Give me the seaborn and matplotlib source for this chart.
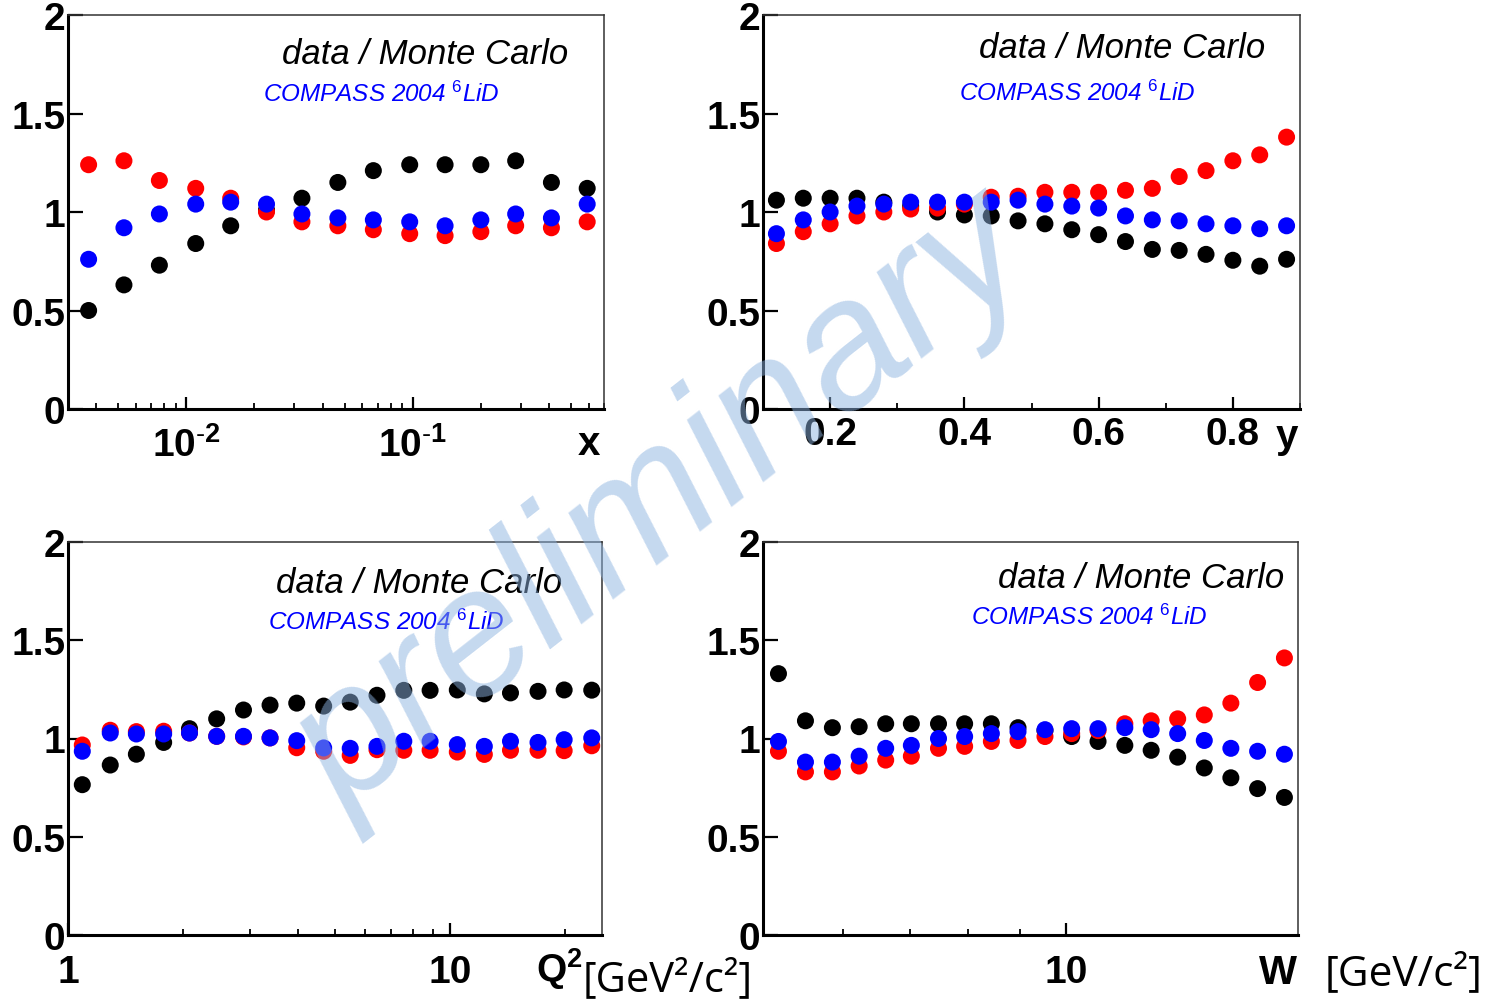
import matplotlib
matplotlib.use("Agg")
import matplotlib.pyplot as plt
import numpy as np
import pandas as pd
import seaborn as sns
from matplotlib.ticker import FixedLocator, FixedFormatter, NullFormatter, MultipleLocator, LogLocator

# ---------------- data: ratio data / Monte Carlo for three samples ----------------
series_names = ["black", "red", "blue"]
series_colors = {"black": "#000000", "red": "#ff0000", "blue": "#0000ff"}

x_bins = [0.0037, 0.0053, 0.0076, 0.011, 0.0157, 0.0226, 0.0324, 0.0467,
          0.067, 0.097, 0.139, 0.20, 0.285, 0.41, 0.59]
x_black = [0.50, 0.63, 0.73, 0.84, 0.93, 1.01, 1.07, 1.15, 1.21, 1.24, 1.24, 1.24, 1.26, 1.15, 1.12]
x_red = [1.24, 1.26, 1.16, 1.12, 1.07, 1.00, 0.95, 0.93, 0.91, 0.89, 0.88, 0.90, 0.93, 0.92, 0.95]
x_blue = [0.76, 0.92, 0.99, 1.04, 1.05, 1.04, 0.99, 0.97, 0.96, 0.95, 0.93, 0.96, 0.99, 0.97, 1.04]

y_bins = [0.12, 0.16, 0.20, 0.24, 0.28, 0.32, 0.36, 0.40, 0.44, 0.48,
          0.52, 0.56, 0.60, 0.64, 0.68, 0.72, 0.76, 0.80, 0.84, 0.88]
y_black = [1.06, 1.07, 1.07, 1.07, 1.05, 1.03, 1.00, 0.985, 0.98, 0.955,
           0.94, 0.91, 0.885, 0.85, 0.81, 0.805, 0.785, 0.755, 0.725, 0.76]
y_red = [0.84, 0.90, 0.94, 0.98, 1.00, 1.015, 1.02, 1.04, 1.075, 1.08,
         1.10, 1.10, 1.10, 1.11, 1.12, 1.18, 1.21, 1.26, 1.29, 1.38]
y_blue = [0.89, 0.96, 1.00, 1.03, 1.04, 1.05, 1.05, 1.05, 1.05, 1.06,
          1.04, 1.03, 1.02, 0.98, 0.96, 0.955, 0.94, 0.93, 0.915, 0.93]

q2_bins = [1.09, 1.29, 1.51, 1.78, 2.08, 2.45, 2.88, 3.38, 3.97, 4.67,
           5.48, 6.44, 7.57, 8.87, 10.45, 12.3, 14.4, 17.0, 19.9, 23.5]
q2_black = [0.765, 0.865, 0.92, 0.98, 1.05, 1.10, 1.145, 1.17, 1.18, 1.165,
            1.185, 1.22, 1.245, 1.245, 1.247, 1.227, 1.232, 1.24, 1.247, 1.246]
q2_red = [0.967, 1.042, 1.035, 1.037, 1.028, 1.011, 1.008, 1.003, 0.953, 0.935,
          0.914, 0.943, 0.94, 0.94, 0.931, 0.919, 0.94, 0.94, 0.938, 0.963]
q2_blue = [0.935, 1.028, 1.023, 1.023, 1.028, 1.011, 1.011, 1.003, 0.989, 0.952,
           0.95, 0.96, 0.986, 0.986, 0.969, 0.96, 0.986, 0.98, 0.994, 1.003]

w_bins = [5.18, 5.51, 5.86, 6.23, 6.62, 7.02, 7.47, 7.93, 8.43, 8.96,
          9.53, 10.13, 10.76, 11.44, 12.15, 12.91, 13.72, 14.58, 15.5, 16.48]
w_black = [1.33, 1.09, 1.055, 1.06, 1.075, 1.075, 1.075, 1.075, 1.075, 1.055,
           1.04, 1.01, 0.985, 0.965, 0.94, 0.905, 0.85, 0.80, 0.745, 0.70]
w_red = [0.935, 0.83, 0.83, 0.86, 0.89, 0.91, 0.95, 0.96, 0.985, 0.99,
         1.01, 1.025, 1.04, 1.075, 1.09, 1.10, 1.12, 1.18, 1.285, 1.41]
w_blue = [0.985, 0.88, 0.88, 0.91, 0.95, 0.965, 1.00, 1.01, 1.025, 1.035,
          1.045, 1.05, 1.05, 1.055, 1.045, 1.025, 0.99, 0.95, 0.935, 0.92]

y_tick_values = [0, 0.5, 1, 1.5, 2]
y_tick_labels = ["0", "0.5", "1", "1.5", "2"]

# ---------------- style ----------------
sns.set_style("white")
plt.rcParams["font.family"] = ["Liberation Sans", "DejaVu Sans"]
plt.rcParams["mathtext.fontset"] = "custom"
plt.rcParams["mathtext.rm"] = "Liberation Sans"
plt.rcParams["mathtext.it"] = "Liberation Sans:italic"
plt.rcParams["mathtext.bf"] = "Liberation Sans:bold"
for key in ["text.color", "axes.labelcolor", "xtick.color", "ytick.color", "axes.edgecolor"]:
    plt.rcParams[key] = "black"

W, H = 1498, 1004
fig = plt.figure(figsize=(W / 100, H / 100), dpi=100)
fig.patch.set_facecolor("white")

TICK_SIZE = 28


def fx(px):
    return px / W


def fy(py):
    return 1 - py / H


def box(x0, y0, x1, y1):
    return [fx(x0), fy(y1), (x1 - x0) / W, (y1 - y0) / H]


def long_frame(bins, black, red, blue):
    parts = []
    for name, vals in zip(series_names, [black, red, blue]):
        parts.append(pd.DataFrame({"bin": bins, "ratio": vals, "series": name}))
    return pd.concat(parts, ignore_index=True)


def panel(rect, bins, black, red, blue, log, xlim, pad):
    ax = fig.add_axes(rect)
    df = long_frame(bins, black, red, blue)
    sns.scatterplot(data=df, x="bin", y="ratio", hue="series", hue_order=series_names,
                    palette=series_colors, s=150, linewidth=0, legend=False, ax=ax,
                    zorder=3, clip_on=False)
    if log:
        ax.set_xscale("log")
        ax.xaxis.set_minor_locator(LogLocator(base=10, subs=np.arange(2, 10), numticks=50))
    ax.set_xlim(*xlim)
    ax.set_ylim(0, 2)
    ax.yaxis.set_major_locator(FixedLocator(y_tick_values))
    ax.yaxis.set_major_formatter(FixedFormatter(y_tick_labels))
    ax.yaxis.set_minor_locator(FixedLocator([]))
    ax.set_xlabel("")
    ax.set_ylabel("")
    for side in ["left", "bottom"]:
        ax.spines[side].set_linewidth(2.2)
        ax.spines[side].set_color("black")
    for side in ["top", "right"]:
        ax.spines[side].set_linewidth(1.1)
        ax.spines[side].set_color("#333333")
    ax.tick_params(axis="y", which="major", direction="in", length=11, width=1.6,
                   pad=2, labelsize=TICK_SIZE, left=True, right=False,
                   colors="black")
    ax.tick_params(axis="x", which="major", direction="in", length=9, width=1.6,
                   pad=pad, labelsize=TICK_SIZE, bottom=True, top=False,
                   colors="black")
    ax.tick_params(axis="x", which="minor", direction="in", length=4.5, width=1.3,
                   bottom=True, top=False, colors="black")
    ax.xaxis.set_minor_formatter(NullFormatter())
    return ax


ax_x = panel(box(68, 16, 604, 410), x_bins, x_black, x_red, x_blue, True, (0.003, 0.7), 12)
ax_x.xaxis.set_major_locator(FixedLocator([0.01, 0.1]))
ax_x.xaxis.set_major_formatter(FixedFormatter([r"$\mathbf{10^{\text{-}2}}$",
                                               r"$\mathbf{10^{\text{-}1}}$"]))

ax_y = panel(box(763, 16, 1300, 410), y_bins, y_black, y_red, y_blue, False, (0.1, 0.9), 5)
ax_y.xaxis.set_major_locator(FixedLocator([0.2, 0.4, 0.6, 0.8]))
ax_y.xaxis.set_major_formatter(FixedFormatter(["0.2", "0.4", "0.6", "0.8"]))
ax_y.xaxis.set_minor_locator(MultipleLocator(0.1))

ax_q = panel(box(68, 543, 602, 936), q2_bins, q2_black, q2_red, q2_blue, True, (1, 25), 14)
ax_q.xaxis.set_major_locator(FixedLocator([1, 10]))
ax_q.xaxis.set_major_formatter(FixedFormatter(["1", "10"]))

ax_w = panel(box(763, 543, 1298, 936), w_bins, w_black, w_red, w_blue, True, (5, 17), 14)
ax_w.xaxis.set_major_locator(FixedLocator([10]))
ax_w.xaxis.set_major_formatter(FixedFormatter(["10"]))

for ax in [ax_x, ax_y, ax_q, ax_w]:
    for lab in ax.get_xticklabels() + ax.get_yticklabels():
        lab.set_fontweight("bold")
        lab.set_color("black")

# ---------------- in-panel captions ----------------
captions = [(568, 64, 500, 102), (1265, 58, 1196, 101), (562, 593, 505, 630), (1284, 588, 1208, 625)]
for xr, yb, xr2, yb2 in captions:
    fig.text(fx(xr), fy(yb), "data / Monte Carlo", fontsize=25, style="italic",
             ha="right", va="baseline", color="black")
    fig.text(fx(xr2), fy(yb2), r"COMPASS 2004 ${}^{\mathit{6}}$LiD", fontsize=17.5,
             style="italic", ha="right", va="baseline", color="#0000ff")

# ---------------- axis titles ----------------
fig.text(fx(589), fy(455), "x", fontsize=29, fontweight="bold", ha="center", va="baseline")
fig.text(fx(1287), fy(448), "y", fontsize=29, fontweight="bold", ha="center", va="baseline")
fig.text(fx(536), fy(982), r"$\mathbf{Q^{2}}$", fontsize=28, ha="left", va="baseline")
fig.text(fx(583), fy(991), "[GeV²/c²]", fontsize=30, family="Open Sans",
         ha="left", va="baseline")
fig.text(fx(1259), fy(984), "W", fontsize=29, fontweight="bold", ha="left", va="baseline")
fig.text(fx(1325), fy(985), "[GeV/c²]", fontsize=30.5, family="Open Sans",
         ha="left", va="baseline")

# ---------------- watermark ----------------
fig.text(fx(663), fy(505), "preliminary", fontsize=130, style="italic",
         color=(0.55, 0.70, 0.88), alpha=0.5, rotation=38, rotation_mode="anchor",
         ha="center", va="center", zorder=10)

fig.savefig("out.png", dpi=100, facecolor="white")
